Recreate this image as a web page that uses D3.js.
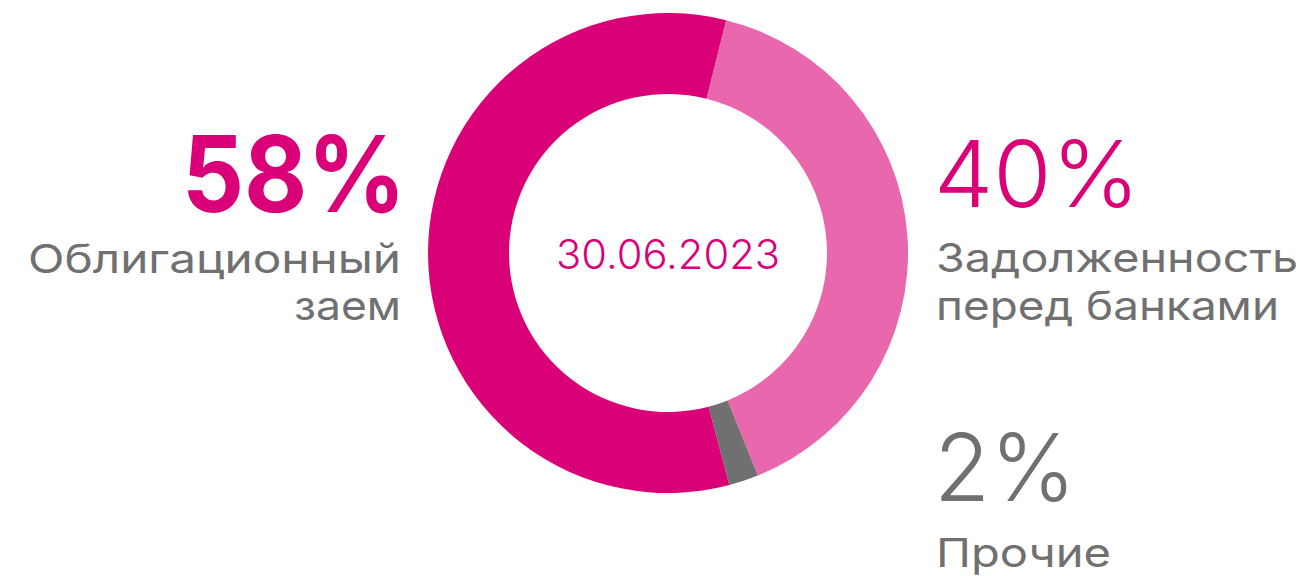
<!DOCTYPE html>
<html><head><meta charset="utf-8">
<script src="https://cdn.jsdelivr.net/npm/d3@7"></script>
<style>
html,body{margin:0;padding:0;background:#fff;}
svg{display:block;font-family:Inter, "Noto Sans", sans-serif;}
</style></head>
<body>
<svg id="chart" width="1311" height="576"></svg>
<script>
const categories = ["Задолженность перед банками", "Прочие", "Облигационный заем"];
const values = [40, 2, 58];
const valueLabels = ["40%", "2%", "58%"];
const nameLines = [["Задолженность", "перед банками"], ["Прочие"], ["Облигационный", "заем"]];
const centerLabel = "30.06.2023";
const colors = ["#E967AD", "#707070", "#DA0078"];

const svg = d3.select("#chart");
const cx = 668, cy = 253, rOuter = 240, rInner = 159;
const startDeg = 14;

const pie = d3.pie().sort(null).value(d => d)
  .startAngle(startDeg * Math.PI / 180)
  .endAngle((startDeg + 360) * Math.PI / 180);
const arc = d3.arc().innerRadius(rInner).outerRadius(rOuter);

const g = svg.append("g").attr("transform", `translate(${cx},${cy})`);
g.selectAll("path").data(pie(values)).join("path")
  .attr("d", arc)
  .attr("fill", (d, i) => colors[i]);

g.append("text").attr("x", -112).attr("y", 16)
  .attr("font-size", 41).attr("font-weight", 300)
  .attr("textLength", 224).attr("lengthAdjust", "spacingAndGlyphs")
  .attr("fill", "#DA0078").text(centerLabel);

// label layout (positions / sizes only)
const layout = [
  {x: 934, anchor: "start", pctY: 207, pctSize: 92, pctWeight: 300, pctColor: "#DA0078", pctW: 206, lineX: 936, lineY: [272, 320], lineW: [362, 343]},
  {x: 934, anchor: "start", pctY: 501, pctSize: 93, pctWeight: 300, pctColor: "#707070", pctW: 142, lineX: 936, lineY: [567], lineW: [175]},
  {x: 406, anchor: "end", pctY: 212, pctSize: 106, pctWeight: 700, pctColor: "#DA0078", pctW: 224, lineX: 401, lineY: [273, 320], lineW: [373, 107]}
];

categories.forEach((c, i) => {
  const L = layout[i];
  svg.append("text").attr("x", L.x).attr("y", L.pctY)
    .attr("text-anchor", L.anchor)
    .attr("font-size", L.pctSize).attr("font-weight", L.pctWeight)
    .attr("textLength", L.pctW).attr("lengthAdjust", "spacingAndGlyphs")
    .attr("fill", L.pctColor).text(valueLabels[i]);
  nameLines[i].forEach((ln, j) => {
    svg.append("text").attr("x", L.lineX).attr("y", L.lineY[j])
      .attr("text-anchor", L.anchor)
      .attr("font-size", 40).attr("font-weight", 400)
      .attr("textLength", L.lineW[j]).attr("lengthAdjust", "spacingAndGlyphs")
      .attr("fill", "#707070").text(ln);
  });
});
</script>
</body></html>
